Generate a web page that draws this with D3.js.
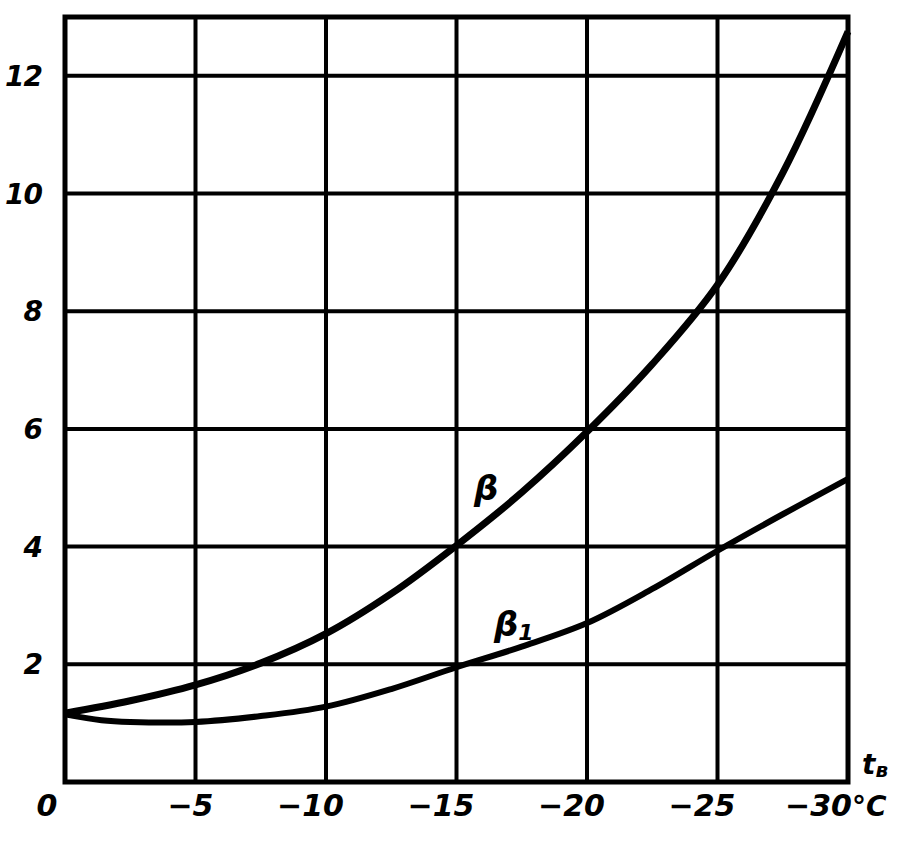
<!DOCTYPE html>
<html>
<head>
<meta charset="utf-8">
<script src="https://cdn.jsdelivr.net/npm/d3@7"></script>
<style>
  html, body { margin: 0; padding: 0; background: #fff; }
  svg { display: block; }
  .lbl { font-family: "DejaVu Sans", sans-serif; font-weight: bold; font-style: italic; fill: #000; }
</style>
</head>
<body>
<svg id="chart" width="915" height="842"></svg>
<script>
// ---- data ----
const xTicks = [0, -5, -10, -15, -20, -25, -30];
const xTickLabels = ["0", "−5", "−10", "−15", "−20", "−25", "−30"];
const yTicks = [2, 4, 6, 8, 10, 12];
const yTickLabels = ["2", "4", "6", "8", "10", "12"];

const betaT = [0, -2.5, -5, -7.5, -10, -12.5, -15, -17.5, -20, -22.5, -25, -27.5, -30];
const betaV = [1.17, 1.38, 1.65, 2.02, 2.52, 3.2, 4.02, 4.92, 5.95, 7.1, 8.45, 10.35, 12.75];

const beta1T = [0, -1.4, -2.5, -5, -7.5, -10, -12.5, -15, -17.5, -20, -22.5, -25, -27.5, -30];
const beta1V = [1.15, 1.05, 1.02, 1.02, 1.12, 1.28, 1.58, 1.95, 2.3, 2.7, 3.28, 3.93, 4.55, 5.15];

// ---- layout ----
const svg = d3.select("#chart");
const x = d3.scaleLinear().domain([0, -30]).range([65, 848]);
const y = d3.scaleLinear().domain([0, 13]).range([782, 17]);

const g = svg.append("g");

// grid
g.selectAll("line.v").data(xTicks.slice(1, -1)).join("line")
  .attr("x1", d => x(d)).attr("x2", d => x(d))
  .attr("y1", y(0)).attr("y2", y(13))
  .attr("stroke", "#000").attr("stroke-width", 4);
g.selectAll("line.h").data(yTicks).join("line")
  .attr("x1", x(0)).attr("x2", x(-30))
  .attr("y1", d => y(d)).attr("y2", d => y(d))
  .attr("stroke", "#000").attr("stroke-width", 4);

// frame
g.append("rect")
  .attr("x", x(0)).attr("y", y(13))
  .attr("width", x(-30) - x(0)).attr("height", y(0) - y(13))
  .attr("fill", "none").attr("stroke", "#000").attr("stroke-width", 5);

// curves
const line = d3.line().x(d => x(d[0])).y(d => y(d[1])).curve(d3.curveCatmullRom.alpha(0.5));
g.append("path").datum(betaT.map((t, i) => [t, betaV[i]]))
  .attr("d", line).attr("fill", "none").attr("stroke", "#000").attr("stroke-width", 7);
g.append("path").datum(beta1T.map((t, i) => [t, beta1V[i]]))
  .attr("d", line).attr("fill", "none").attr("stroke", "#000").attr("stroke-width", 6);

// y tick labels
g.selectAll("text.yt").data(yTicks).join("text")
  .attr("class", "lbl")
  .attr("x", 42).attr("y", d => y(d) + 10)
  .attr("text-anchor", "end")
  .attr("font-size", 28)
  .attr("letter-spacing", -1)
  .text((d, i) => yTickLabels[i]);

// x tick labels
g.selectAll("text.xt").data(xTicks).join("text")
  .attr("class", "lbl")
  .attr("x", (d, i) => i === 0 ? x(d) - 18 : (i === xTicks.length - 1 ? x(d) + 4 : x(d) + 18))
  .attr("y", 816)
  .attr("text-anchor", (d, i) => i === 0 ? "middle" : "end")
  .attr("font-size", 30)
  .text((d, i) => xTickLabels[i]);
g.append("text").attr("class", "lbl")
  .attr("x", x(-30) + 4).attr("y", 816)
  .attr("font-size", 28)
  .text("°C");

// axis name t_в
const tl = g.append("text").attr("class", "lbl")
  .attr("x", 862).attr("y", 774).attr("font-size", 28);
tl.append("tspan").text("t");
tl.append("tspan").attr("font-size", 20).attr("dy", 3).text("в");

// curve labels
g.append("text").attr("class", "lbl")
  .attr("x", 474).attr("y", 500).attr("font-size", 34)
  .attr("font-family", "DejaVu Serif")
  .text("β");
const b1 = g.append("text").attr("class", "lbl")
  .attr("x", 494).attr("y", 636).attr("font-size", 34)
  .attr("font-family", "DejaVu Serif");
b1.append("tspan").text("β");
b1.append("tspan").attr("font-size", 22).attr("dy", 4).text("1");
</script>
</body>
</html>
